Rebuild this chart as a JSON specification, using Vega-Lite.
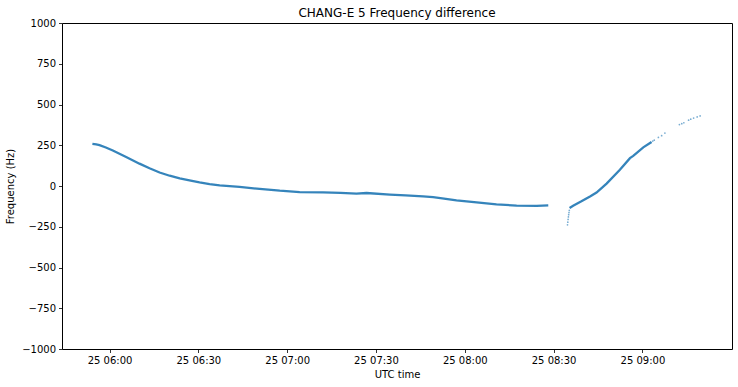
{
  "$schema": "https://vega.github.io/schema/vega-lite/v6.json",
  "width": 670,
  "height": 326,
  "autosize": "none",
  "padding": {"left": 62, "top": 23, "right": 6, "bottom": 38},
  "background": "white",
  "config": {
    "font": "DejaVu Sans",
    "view": {"stroke": "black", "strokeWidth": 1},
    "axis": {"grid": false, "domain": false, "tickColor": "black", "tickSize": 3.5, "tickWidth": 0.8,
             "labelColor": "black", "labelFontSize": 10, "labelFont": "DejaVu Sans", "labelPadding": 3,
             "titleColor": "black", "titleFontSize": 10, "titleFont": "DejaVu Sans", "titleFontWeight": "normal"}
  },
  "title": {"text": "CHANG-E 5 Frequency difference", "fontSize": 12, "fontWeight": "normal", "font": "DejaVu Sans", "color": "black", "offset": -2},
  "data": {"values": [
    {"t": "2020-11-25T05:54:12", "f": 259, "k": "a"},
    {"t": "2020-11-25T05:55:30", "f": 256, "k": "a"},
    {"t": "2020-11-25T05:56:36", "f": 251, "k": "a"},
    {"t": "2020-11-25T05:58:45", "f": 236, "k": "a"},
    {"t": "2020-11-25T06:01:06", "f": 218, "k": "a"},
    {"t": "2020-11-25T06:05:36", "f": 178, "k": "a"},
    {"t": "2020-11-25T06:10:06", "f": 137, "k": "a"},
    {"t": "2020-11-25T06:13:30", "f": 109, "k": "a"},
    {"t": "2020-11-25T06:16:54", "f": 83, "k": "a"},
    {"t": "2020-11-25T06:20:18", "f": 63, "k": "a"},
    {"t": "2020-11-25T06:23:42", "f": 47, "k": "a"},
    {"t": "2020-11-25T06:27:00", "f": 34, "k": "a"},
    {"t": "2020-11-25T06:30:24", "f": 22, "k": "a"},
    {"t": "2020-11-25T06:33:48", "f": 12, "k": "a"},
    {"t": "2020-11-25T06:37:12", "f": 4, "k": "a"},
    {"t": "2020-11-25T06:43:54", "f": -6, "k": "a"},
    {"t": "2020-11-25T06:50:42", "f": -18, "k": "a"},
    {"t": "2020-11-25T06:57:30", "f": -29, "k": "a"},
    {"t": "2020-11-25T07:00:54", "f": -33, "k": "a"},
    {"t": "2020-11-25T07:04:12", "f": -37, "k": "a"},
    {"t": "2020-11-25T07:12:06", "f": -39, "k": "a"},
    {"t": "2020-11-25T07:18:00", "f": -42, "k": "a"},
    {"t": "2020-11-25T07:23:24", "f": -47, "k": "a"},
    {"t": "2020-11-25T07:26:48", "f": -43, "k": "a"},
    {"t": "2020-11-25T07:34:42", "f": -53, "k": "a"},
    {"t": "2020-11-25T07:40:00", "f": -58, "k": "a"},
    {"t": "2020-11-25T07:45:54", "f": -64, "k": "a"},
    {"t": "2020-11-25T07:49:18", "f": -68, "k": "a"},
    {"t": "2020-11-25T07:53:00", "f": -77, "k": "a"},
    {"t": "2020-11-25T07:57:12", "f": -88, "k": "a"},
    {"t": "2020-11-25T08:04:00", "f": -101, "k": "a"},
    {"t": "2020-11-25T08:10:42", "f": -113, "k": "a"},
    {"t": "2020-11-25T08:17:30", "f": -120, "k": "a"},
    {"t": "2020-11-25T08:24:18", "f": -122, "k": "a"},
    {"t": "2020-11-25T08:28:12", "f": -119, "k": "a"},
    {"t": "2020-11-25T08:35:24", "f": -135, "k": "b"},
    {"t": "2020-11-25T08:36:36", "f": -121, "k": "b"},
    {"t": "2020-11-25T08:39:24", "f": -94, "k": "b"},
    {"t": "2020-11-25T08:42:18", "f": -64, "k": "b"},
    {"t": "2020-11-25T08:44:30", "f": -40, "k": "b"},
    {"t": "2020-11-25T08:47:54", "f": 15, "k": "b"},
    {"t": "2020-11-25T08:52:24", "f": 100, "k": "b"},
    {"t": "2020-11-25T08:55:48", "f": 171, "k": "b"},
    {"t": "2020-11-25T08:56:54", "f": 185, "k": "b"},
    {"t": "2020-11-25T09:00:18", "f": 237, "k": "b"},
    {"t": "2020-11-25T09:03:06", "f": 270, "k": "b"},
    {"t": "2020-11-25T08:34:42", "f": -238, "k": "dot"},
    {"t": "2020-11-25T08:34:48", "f": -222, "k": "dot"},
    {"t": "2020-11-25T08:34:54", "f": -205, "k": "dot"},
    {"t": "2020-11-25T08:35:00", "f": -190, "k": "dot"},
    {"t": "2020-11-25T08:35:06", "f": -176, "k": "dot"},
    {"t": "2020-11-25T08:35:12", "f": -163, "k": "dot"},
    {"t": "2020-11-25T08:35:18", "f": -150, "k": "dot"},
    {"t": "2020-11-25T09:03:30", "f": 276, "k": "dot"},
    {"t": "2020-11-25T09:04:00", "f": 281, "k": "dot"},
    {"t": "2020-11-25T09:05:24", "f": 298, "k": "dot"},
    {"t": "2020-11-25T09:06:30", "f": 309, "k": "dot"},
    {"t": "2020-11-25T09:07:36", "f": 325, "k": "dot"},
    {"t": "2020-11-25T09:12:30", "f": 377, "k": "dot"},
    {"t": "2020-11-25T09:13:18", "f": 382, "k": "dot"},
    {"t": "2020-11-25T09:14:00", "f": 388, "k": "dot"},
    {"t": "2020-11-25T09:15:36", "f": 404, "k": "dot"},
    {"t": "2020-11-25T09:16:20", "f": 410, "k": "dot"},
    {"t": "2020-11-25T09:17:18", "f": 417, "k": "dot"},
    {"t": "2020-11-25T09:18:30", "f": 424, "k": "dot"},
    {"t": "2020-11-25T09:19:30", "f": 430, "k": "dot"}
  ]},
  "encoding": {
    "x": {"field": "t", "type": "temporal",
          "scale": {"domain": [{"year": 2020, "month": 11, "date": 25, "hours": 5, "minutes": 43, "seconds": 56},
                               {"year": 2020, "month": 11, "date": 25, "hours": 9, "minutes": 30, "seconds": 16}], "nice": false},
          "axis": {"title": "UTC time", "format": "%d %H:%M",
                   "values": [{"year": 2020, "month": 11, "date": 25, "hours": 6, "minutes": 0},
                              {"year": 2020, "month": 11, "date": 25, "hours": 6, "minutes": 30},
                              {"year": 2020, "month": 11, "date": 25, "hours": 7, "minutes": 0},
                              {"year": 2020, "month": 11, "date": 25, "hours": 7, "minutes": 30},
                              {"year": 2020, "month": 11, "date": 25, "hours": 8, "minutes": 0},
                              {"year": 2020, "month": 11, "date": 25, "hours": 8, "minutes": 30},
                              {"year": 2020, "month": 11, "date": 25, "hours": 9, "minutes": 0}],
                   "labelFlush": false, "titlePadding": 4}},
    "y": {"field": "f", "type": "quantitative",
          "scale": {"domain": [-1000, 1000], "nice": false},
          "axis": {"title": "Frequency (Hz)", "format": "d", "values": [-1000, -750, -500, -250, 0, 250, 500, 750, 1000], "titlePadding": 6, "labelFlush": false}}
  },
  "layer": [
    {"transform": [{"filter": "datum.k !== 'dot'"}],
     "mark": {"type": "line", "color": "#1f77b4", "strokeWidth": 2.3, "opacity": 0.9},
     "encoding": {"detail": {"field": "k"}}},
    {"transform": [{"filter": "datum.k === 'dot'"}],
     "mark": {"type": "circle", "color": "#1f77b4", "size": 3, "opacity": 0.6}}
  ]
}
